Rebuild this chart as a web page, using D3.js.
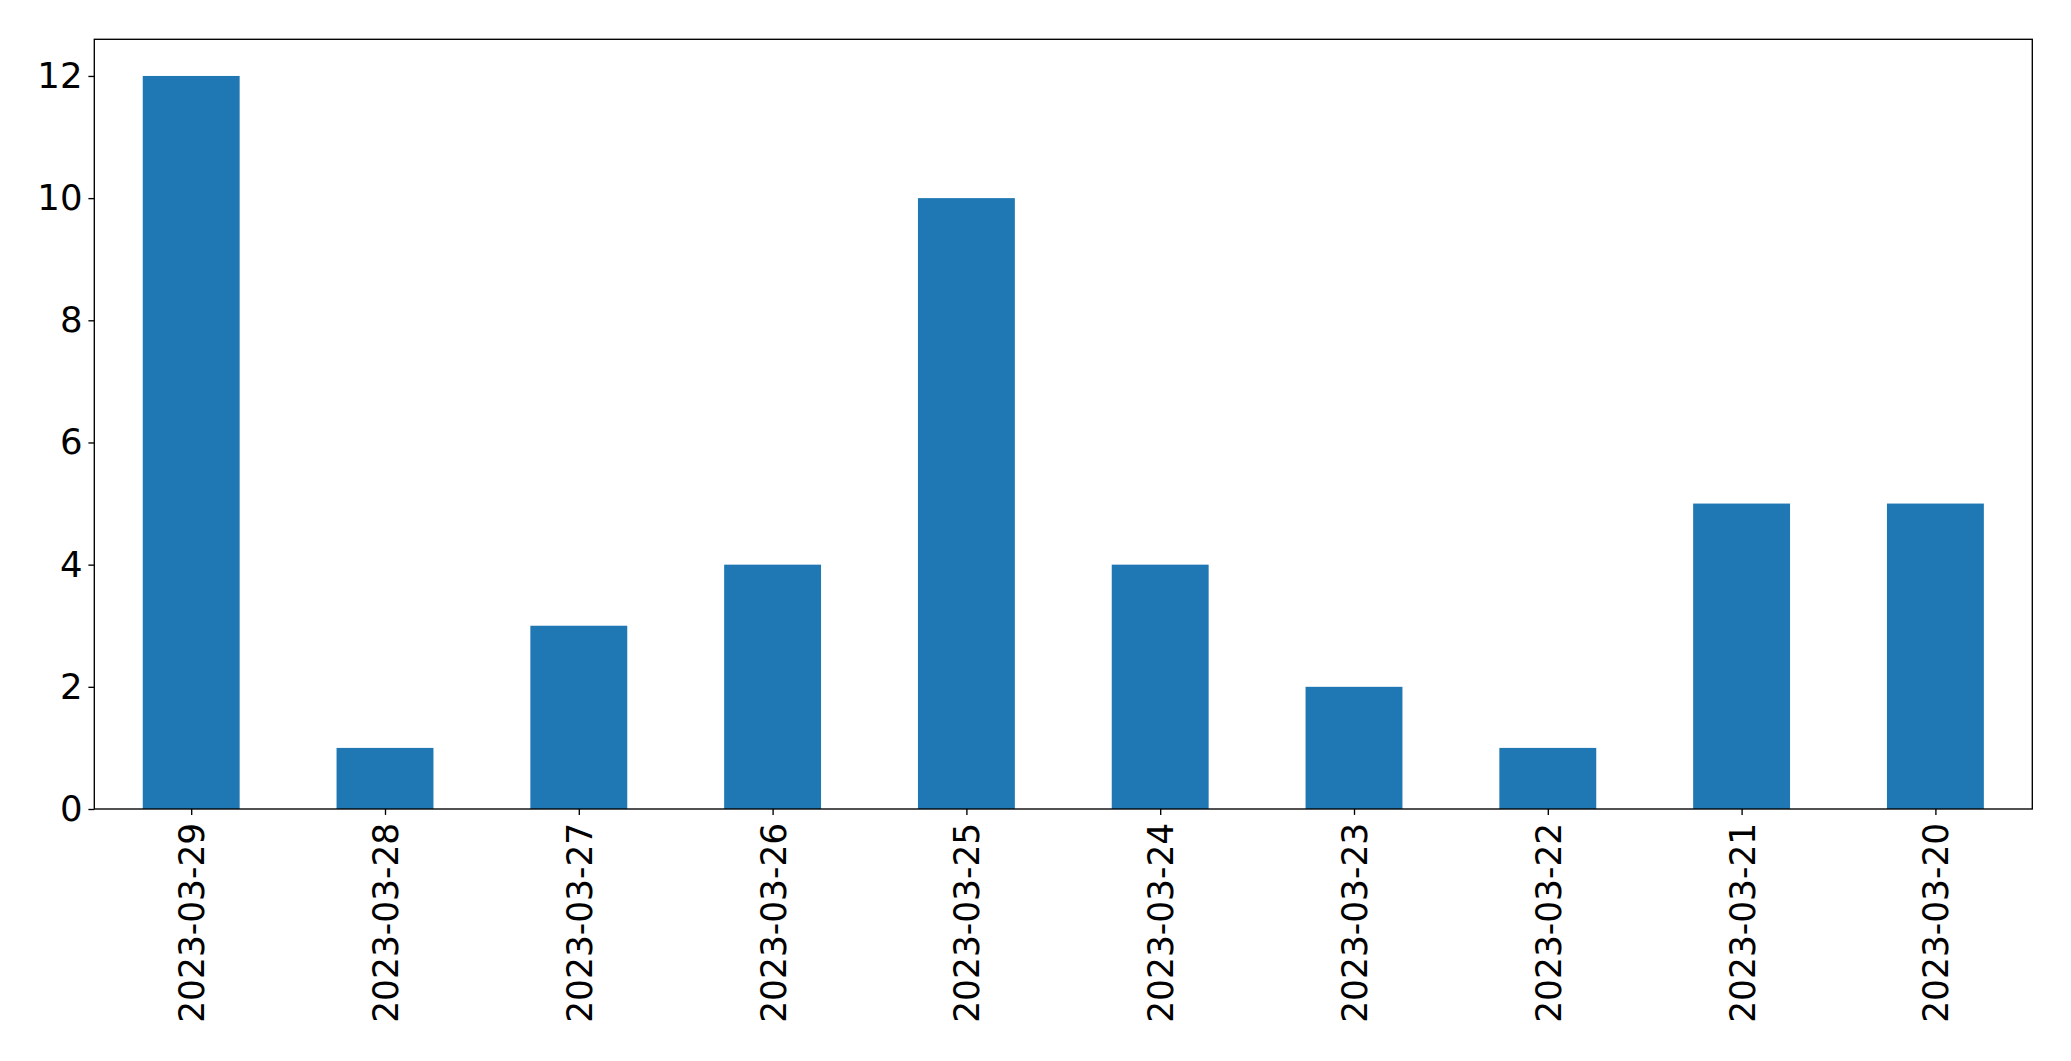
<!DOCTYPE html>
<html><head><meta charset="utf-8">
<script src="https://cdn.jsdelivr.net/npm/d3@7"></script>
<style>html,body{margin:0;padding:0;background:#fff;}svg{display:block;}</style>
</head><body>
<script>
const categories = ["2023-03-29","2023-03-28","2023-03-27","2023-03-26","2023-03-25","2023-03-24","2023-03-23","2023-03-22","2023-03-21","2023-03-20"];
const values = [12, 1, 3, 4, 10, 4, 2, 1, 5, 5];
const yTicks = [0, 2, 4, 6, 8, 10, 12];

const W = 2071, H = 1061;
const m = {left: 94.3, top: 39.3, right: 2032.3, bottom: 809};
const fontSize = 35.5;
const tickLen = 5.9, pad = 5.9;

const svg = d3.select("body").append("svg").attr("width", W).attr("height", H);

const x = d3.scaleLinear().domain([-0.5, categories.length - 0.5]).range([m.left, m.right]);
const y = d3.scaleLinear().domain([0, 12.6]).range([m.bottom, m.top]);
const barW = x(0.25) - x(-0.25);

svg.append("g").selectAll("rect").data(values).join("rect")
  .attr("x", (d, i) => x(i) - barW / 2)
  .attr("width", barW)
  .attr("y", d => y(d))
  .attr("height", d => y(0) - y(d))
  .attr("fill", "#1f77b4");

// frame
svg.append("rect").attr("x", m.left).attr("y", m.top)
  .attr("width", m.right - m.left).attr("height", m.bottom - m.top)
  .attr("fill", "none").attr("stroke", "#000").attr("stroke-width", 1.36);

const yAxis = d3.axisLeft(y).tickValues(yTicks).tickSize(tickLen).tickPadding(pad).tickFormat(d3.format("d"));
const gy = svg.append("g").attr("transform", `translate(${m.left},0)`).call(yAxis);
gy.select(".domain").remove();
gy.selectAll("line").attr("stroke", "#000").attr("stroke-width", 1.36);
gy.selectAll("text").attr("font-family", "DejaVu Sans").attr("font-size", fontSize).attr("fill", "#000");

const xAxis = d3.axisBottom(x).tickValues(d3.range(categories.length)).tickSize(tickLen).tickFormat(i => categories[i]);
const gx = svg.append("g").attr("transform", `translate(0,${m.bottom})`).call(xAxis);
gx.select(".domain").remove();
gx.selectAll("line").attr("stroke", "#000").attr("stroke-width", 1.36);
gx.selectAll("text")
  .attr("font-family", "DejaVu Sans").attr("font-size", fontSize).attr("fill", "#000")
  .attr("transform", `translate(0,${tickLen + pad + 2}) rotate(-90)`)
  .attr("x", 0).attr("y", 0).attr("dy", "0.35em")
  .attr("text-anchor", "end")
  .attr("textLength", 200).attr("lengthAdjust", "spacingAndGlyphs");
</script>
</body></html>
